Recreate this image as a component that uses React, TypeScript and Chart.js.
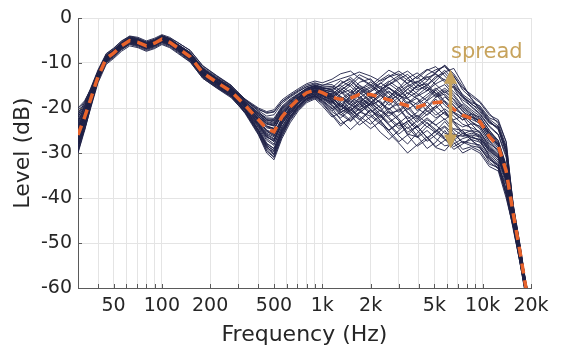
import React, { useEffect, useRef } from "react";
import { Chart, registerables } from "chart.js";

Chart.register(...registerables);

// ---------- data ----------
const FREQ = [30, 33, 36, 40, 45, 50, 56, 63, 71, 80, 90, 100, 112, 125, 150, 180, 220, 270, 330, 400, 450, 500, 560, 630, 710, 800, 900, 1000, 1150, 1300, 1500, 1700, 2000, 2300, 2600, 3000, 3400, 3900, 4500, 5100, 5800, 6600, 7500, 8500, 9600, 11000, 12500, 14000, 15500, 17000, 18500, 20000];

const MEAN = [-26, -22, -18, -13, -9, -7.8, -6.2, -5, -5.4, -6.2, -5.6, -4.7, -5.4, -6.6, -8.6, -12.2, -14.3, -16.3, -19.4, -22.6, -24.6, -25.3, -22, -19.8, -18, -16.6, -16, -16.6, -17.6, -18.1, -17.8, -17, -17, -17.6, -18.2, -18.9, -19.5, -19.8, -19.1, -18.8, -18.6, -20.3, -21.6, -22.3, -23, -26.4, -28.5, -34, -43.5, -51.5, -59.5, -65];

const C01 = [-22, -19.5, -16.5, -12.2, -8.6, -7.4, -5.8, -4.7, -5.0, -5.9, -5.3, -4.4, -5.0, -6.2, -8.0, -11.5, -13.6, -15.6, -18.2, -20.4, -21.0, -20.8, -18.6, -17.4, -16.2, -15.3, -14.6, -15.0, -14.2, -13.5, -12.8, -12.0, -12.9, -14.0, -13.1, -12.4, -13.8, -14.5, -12.6, -11.5, -10.8, -13.0, -15.6, -17.0, -18.5, -21.2, -23.5, -28.5, -41.5, -50, -58.5, -64];
const C02 = [-29.5, -24.5, -19.5, -13.8, -9.6, -8.3, -6.7, -5.5, -5.9, -6.7, -6.1, -5.2, -5.9, -7.1, -9.2, -12.9, -15.1, -17.1, -20.8, -25.6, -29.4, -30.8, -26.1, -22.6, -20.1, -18.4, -17.6, -18.8, -21.3, -23.5, -22.4, -20.9, -21.8, -23.6, -24.9, -23.2, -25.8, -26.4, -24.1, -25.5, -27.0, -28.6, -27.4, -27.9, -28.2, -31.0, -33.5, -39, -46, -53.5, -61, -66];
const C03 = [-25.0, -21.2, -17.6, -12.8, -9.1, -7.9, -6.3, -5.2, -5.5, -6.4, -5.7, -4.8, -5.6, -6.8, -8.8, -12.4, -14.5, -16.6, -19.9, -23.8, -26.5, -27.2, -23.0, -20.5, -18.4, -16.9, -16.3, -17.3, -19.0, -16.8, -15.9, -17.8, -19.6, -18.1, -16.4, -18.0, -21.2, -22.5, -19.8, -17.6, -16.9, -18.8, -20.5, -23.1, -24.6, -27.9, -29.4, -35, -44, -52, -59.8, -65];
const C04 = [-23.5, -20.4, -17.0, -12.6, -8.8, -7.6, -6.0, -4.9, -5.3, -6.0, -5.4, -4.5, -5.2, -6.4, -8.3, -11.9, -14.0, -16.0, -19.0, -21.5, -23.2, -23.6, -20.8, -19.0, -17.5, -16.2, -15.4, -15.8, -16.5, -17.9, -20.4, -19.1, -16.3, -15.2, -16.8, -19.5, -17.2, -15.1, -14.6, -16.9, -19.4, -21.0, -22.7, -21.3, -22.0, -24.9, -27.6, -33, -43, -51, -59.2, -65];
const C05 = [-28.0, -23.4, -18.6, -13.4, -9.3, -8.0, -6.4, -5.1, -5.6, -6.5, -5.8, -4.9, -5.5, -6.7, -8.9, -12.5, -14.8, -16.9, -20.3, -24.4, -27.8, -29.0, -24.6, -21.4, -19.0, -17.5, -16.9, -17.9, -18.8, -20.2, -21.5, -20.0, -18.4, -19.9, -22.1, -24.0, -23.1, -21.6, -23.4, -25.2, -24.0, -25.9, -26.3, -26.0, -26.4, -29.8, -31.6, -36, -45, -52.5, -60.2, -66];
const C06 = [-21.0, -19.0, -16.2, -12.1, -8.5, -7.3, -5.8, -4.6, -5.0, -5.8, -5.2, -4.3, -4.9, -6.0, -7.8, -11.4, -13.5, -15.5, -18.6, -21.0, -22.2, -22.3, -19.6, -18.0, -16.8, -15.6, -15.0, -15.5, -15.8, -15.0, -16.6, -14.3, -13.5, -15.8, -14.9, -13.6, -12.5, -14.8, -16.2, -14.0, -12.0, -11.2, -14.6, -18.0, -19.8, -22.5, -24.0, -29, -42, -50.5, -58.8, -64];
const C07 = [-30.0, -25.0, -19.8, -13.9, -9.7, -8.4, -6.8, -5.6, -6.0, -6.8, -6.2, -5.3, -6.0, -7.2, -9.3, -13.0, -15.2, -17.3, -21.2, -26.0, -30.0, -31.5, -26.8, -23.3, -20.6, -18.8, -18.0, -19.5, -22.0, -21.0, -19.8, -22.4, -24.6, -23.0, -20.8, -22.8, -26.0, -28.5, -27.0, -25.0, -26.8, -29.2, -28.0, -26.5, -27.0, -30.8, -33.0, -39.5, -46.5, -54, -61.5, -66];
const C08 = [-24.2, -21.0, -17.4, -12.7, -9.0, -7.8, -6.1, -5.0, -5.3, -6.2, -5.5, -4.6, -5.3, -6.5, -8.5, -12.1, -14.2, -16.2, -19.3, -22.3, -24.0, -24.5, -21.5, -19.5, -17.8, -16.5, -16.0, -16.2, -17.0, -18.6, -16.9, -15.4, -16.8, -19.0, -20.4, -18.2, -16.6, -17.9, -20.8, -19.6, -17.5, -19.4, -21.8, -22.5, -23.4, -26.8, -28.0, -33.5, -43.5, -51.5, -59.5, -65];
const C09 = [-26.8, -22.6, -18.3, -13.2, -9.2, -7.9, -6.3, -5.1, -5.5, -6.3, -5.7, -4.8, -5.5, -6.7, -8.7, -12.3, -14.4, -16.5, -19.8, -23.6, -26.2, -27.5, -23.6, -20.9, -18.8, -17.2, -16.5, -17.0, -18.4, -19.8, -18.0, -16.2, -18.5, -20.8, -18.6, -17.0, -19.4, -22.0, -20.2, -18.0, -20.6, -23.0, -24.2, -23.5, -24.0, -27.4, -29.8, -35.2, -44.5, -52.2, -60, -65];
const C10 = [-20.5, -18.6, -15.9, -11.9, -8.4, -7.2, -5.6, -4.5, -4.9, -5.7, -5.1, -4.2, -4.8, -5.9, -7.8, -11.2, -13.4, -15.4, -18.4, -20.6, -21.8, -21.5, -19.0, -17.6, -16.4, -15.2, -14.8, -15.4, -16.0, -14.8, -13.2, -14.9, -16.4, -14.6, -13.0, -11.8, -13.2, -15.6, -14.0, -12.2, -10.5, -12.8, -16.0, -17.8, -20.5, -23.2, -24.5, -29.5, -42.5, -50.8, -59, -64.5];
const C11 = [-27.5, -23.0, -18.5, -13.3, -9.4, -8.1, -6.5, -5.3, -5.6, -6.5, -5.9, -5.0, -5.6, -6.8, -9.0, -12.6, -14.7, -16.8, -20.0, -24.9, -28.6, -30.2, -25.4, -22.0, -19.6, -18.0, -17.4, -18.2, -20.0, -22.6, -24.8, -23.0, -20.5, -21.8, -23.8, -26.2, -28.0, -25.6, -23.2, -24.8, -26.5, -24.6, -25.0, -27.2, -28.5, -32.0, -33.5, -39, -47, -54, -61, -66];
const C12 = [-25.5, -21.6, -17.8, -12.9, -8.9, -7.7, -6.1, -4.9, -5.3, -6.1, -5.5, -4.6, -5.3, -6.5, -8.4, -12.0, -14.1, -16.1, -19.1, -22.0, -23.5, -23.8, -21.0, -19.2, -17.6, -16.3, -15.6, -16.0, -17.2, -16.0, -14.6, -16.5, -18.8, -17.0, -15.6, -16.8, -18.9, -17.2, -15.4, -16.6, -18.8, -20.6, -19.2, -20.8, -22.4, -25.6, -28.2, -33.8, -43.2, -51.2, -59.3, -65];
const C13 = [-29.0, -24.0, -19.2, -13.6, -9.5, -8.2, -6.6, -5.4, -5.8, -6.6, -6.0, -5.1, -5.8, -7.0, -9.1, -12.8, -15.0, -17.0, -20.6, -25.2, -28.8, -29.8, -25.6, -22.2, -19.8, -18.1, -17.3, -18.0, -19.4, -21.0, -19.6, -18.4, -20.2, -22.8, -25.0, -27.5, -26.0, -24.0, -26.6, -28.8, -29.5, -27.2, -25.6, -27.0, -29.0, -31.5, -32.8, -38.5, -45.5, -53, -60.5, -66];
const C14 = [-22.5, -20.0, -16.8, -12.4, -8.7, -7.5, -5.9, -4.8, -5.2, -6.0, -5.3, -4.4, -5.1, -6.3, -8.2, -11.7, -13.8, -15.8, -18.8, -21.6, -22.8, -22.9, -20.2, -18.6, -17.2, -15.9, -15.2, -15.7, -15.5, -13.9, -15.2, -17.0, -15.5, -13.8, -12.6, -14.4, -16.8, -15.0, -13.2, -12.5, -14.2, -16.5, -18.2, -19.6, -21.2, -24.0, -25.8, -30.5, -42.8, -51, -59, -64.5];
const C15 = [-26.2, -22.3, -18.1, -13.0, -9.1, -7.9, -6.2, -5.0, -5.4, -6.3, -5.6, -4.7, -5.4, -6.6, -8.6, -12.2, -14.3, -16.4, -19.6, -23.2, -25.6, -26.4, -22.8, -20.4, -18.4, -17.0, -16.3, -17.2, -18.6, -17.5, -19.2, -20.6, -18.8, -17.0, -18.7, -21.0, -19.0, -17.8, -19.6, -21.6, -20.2, -21.8, -23.6, -24.4, -25.2, -28.6, -30.4, -35.6, -44.8, -52.4, -60, -65.5];
const C16 = [-23.0, -20.2, -17.2, -12.5, -8.8, -7.6, -6.0, -4.8, -5.2, -6.1, -5.4, -4.5, -5.2, -6.4, -8.4, -11.9, -14.1, -16.0, -19.2, -22.6, -24.4, -24.8, -21.6, -19.6, -17.9, -16.6, -16.1, -16.8, -17.8, -19.6, -21.2, -19.4, -17.6, -16.2, -17.9, -16.4, -15.0, -16.8, -18.4, -17.0, -15.6, -17.4, -19.9, -21.4, -23.2, -26.0, -28.6, -34, -43.5, -51.5, -59.5, -65];
const C17 = [-28.5, -23.8, -18.9, -13.5, -9.3, -8.1, -6.5, -5.2, -5.7, -6.5, -5.9, -5.0, -5.7, -6.9, -8.9, -12.6, -14.7, -16.7, -20.4, -24.8, -28.0, -29.0, -24.8, -21.8, -19.4, -17.8, -17.2, -18.4, -20.6, -19.2, -21.6, -23.8, -22.0, -20.4, -22.4, -24.6, -22.8, -24.9, -27.4, -26.0, -24.2, -26.8, -29.2, -28.6, -29.5, -32.5, -33.2, -37, -46, -53.5, -61, -66];
const C18 = [-24.8, -21.4, -17.7, -12.8, -9.0, -7.7, -6.2, -4.9, -5.4, -6.2, -5.6, -4.6, -5.3, -6.6, -8.5, -12.1, -14.2, -16.3, -19.4, -22.8, -24.9, -25.6, -22.2, -19.9, -18.1, -16.7, -16.0, -16.4, -16.8, -15.6, -17.4, -16.0, -14.2, -15.8, -17.6, -15.9, -14.4, -13.0, -15.2, -17.4, -16.0, -18.2, -20.8, -22.0, -22.8, -25.8, -28.0, -33.6, -43.4, -51.4, -59.4, -65];
const C19 = [-27.0, -22.9, -18.4, -13.2, -9.2, -7.9, -6.4, -5.1, -5.5, -6.4, -5.7, -4.8, -5.5, -6.7, -8.7, -12.3, -14.5, -16.5, -19.7, -23.4, -25.8, -26.8, -23.2, -20.6, -18.6, -17.1, -16.4, -16.9, -17.4, -18.9, -20.6, -18.6, -17.2, -18.8, -20.2, -19.0, -20.8, -23.2, -21.4, -19.6, -21.4, -22.6, -21.8, -23.6, -25.6, -28.8, -30.6, -35.8, -45, -52.6, -60.2, -65.5];
const C20 = [-21.5, -19.3, -16.4, -12.2, -8.6, -7.4, -5.8, -4.6, -5.0, -5.9, -5.2, -4.3, -5.0, -6.1, -8.0, -11.5, -13.7, -15.7, -18.7, -21.2, -22.4, -22.6, -19.8, -18.2, -16.9, -15.6, -15.0, -15.3, -15.2, -16.8, -15.0, -13.2, -14.8, -16.4, -14.8, -13.2, -14.6, -16.0, -15.0, -13.4, -11.6, -13.8, -17.2, -19.2, -20.2, -23.0, -24.8, -30, -42.2, -50.6, -58.8, -64.5];
const C21 = [-25.8, -22.0, -18.0, -13.0, -9.1, -7.8, -6.2, -5.0, -5.4, -6.2, -5.6, -4.7, -5.4, -6.6, -8.6, -12.2, -14.3, -16.3, -19.5, -23.0, -25.2, -26.0, -22.6, -20.1, -18.2, -16.8, -16.2, -16.8, -17.9, -19.2, -17.6, -18.8, -21.0, -19.4, -17.6, -19.8, -22.4, -21.0, -18.6, -20.8, -22.6, -20.9, -22.0, -24.8, -26.8, -29.2, -31.0, -35.5, -44.6, -52.2, -60, -65.5];
const C22 = [-29.8, -24.6, -19.6, -13.8, -9.6, -8.3, -6.7, -5.5, -5.9, -6.7, -6.1, -5.2, -5.9, -7.1, -9.2, -12.8, -15.0, -17.1, -20.9, -25.8, -29.6, -31.0, -26.4, -22.8, -20.3, -18.5, -17.8, -19.0, -21.6, -24.0, -22.0, -20.2, -22.8, -25.4, -27.0, -25.0, -23.4, -26.2, -29.0, -27.6, -25.0, -27.6, -30.0, -29.0, -30.0, -33.0, -34.0, -40, -46.5, -54, -61.5, -66];
const C23 = [-23.8, -20.7, -17.3, -12.6, -8.9, -7.6, -6.1, -4.9, -5.2, -6.1, -5.4, -4.5, -5.2, -6.4, -8.3, -11.9, -14.0, -16.1, -19.0, -21.8, -23.4, -23.9, -21.0, -19.2, -17.6, -16.3, -15.6, -16.2, -16.2, -17.4, -18.8, -16.6, -15.2, -17.0, -19.4, -17.6, -15.8, -17.4, -16.2, -14.6, -13.6, -15.6, -18.8, -20.4, -21.8, -25.0, -27.2, -33, -43, -51, -59.2, -65];
const C24 = [-27.8, -23.2, -18.7, -13.3, -9.3, -8.0, -6.4, -5.2, -5.6, -6.4, -5.8, -4.9, -5.6, -6.8, -8.8, -12.4, -14.6, -16.6, -20.2, -24.2, -27.2, -28.3, -24.2, -21.2, -19.0, -17.4, -16.8, -17.6, -19.2, -21.4, -23.0, -21.2, -19.0, -20.6, -21.8, -20.2, -22.6, -24.4, -22.6, -23.8, -25.6, -26.4, -24.8, -25.2, -26.0, -29.4, -31.2, -36, -45.2, -52.8, -60.5, -66];
const C25 = [-22.0, -19.8, -16.7, -12.3, -8.7, -7.5, -5.9, -4.7, -5.1, -6.0, -5.3, -4.4, -5.1, -6.2, -8.1, -11.6, -13.8, -15.8, -18.9, -21.9, -23.6, -24.0, -21.2, -19.4, -17.7, -16.2, -15.5, -15.9, -16.4, -14.5, -13.6, -15.6, -17.8, -16.2, -14.2, -12.8, -11.8, -13.5, -11.6, -10.8, -12.9, -15.0, -17.5, -18.8, -19.5, -22.2, -23.0, -27.5, -41.8, -50.2, -58.6, -64];
const C26 = [-26.5, -22.4, -18.2, -13.1, -9.2, -7.9, -6.3, -5.1, -5.5, -6.3, -5.7, -4.8, -5.5, -6.7, -8.7, -12.3, -14.4, -16.4, -19.7, -23.5, -26.0, -27.0, -23.4, -20.8, -18.7, -17.2, -16.6, -17.4, -18.2, -20.4, -19.0, -17.2, -19.6, -21.8, -20.0, -22.4, -24.6, -22.8, -20.6, -22.2, -21.0, -23.4, -25.8, -25.0, -25.4, -28.2, -30.2, -35.4, -44.6, -52.4, -60, -65.5];
const C27 = [-24.0, -20.8, -17.4, -12.7, -8.9, -7.7, -6.0, -4.9, -5.3, -6.1, -5.5, -4.6, -5.2, -6.4, -8.4, -12.0, -14.1, -16.2, -19.2, -22.4, -24.2, -24.6, -21.6, -19.6, -17.8, -16.4, -15.8, -16.5, -17.6, -16.2, -18.0, -19.8, -18.0, -16.6, -15.4, -17.2, -18.0, -19.2, -17.6, -15.8, -14.8, -17.0, -19.6, -21.2, -22.6, -25.4, -27.8, -33.2, -43.2, -51.2, -59.3, -65];
const C28 = [-28.8, -23.9, -19.0, -13.5, -9.4, -8.1, -6.5, -5.3, -5.7, -6.6, -5.9, -5.0, -5.7, -6.9, -9.0, -12.7, -14.8, -16.9, -20.5, -25.0, -28.4, -29.4, -25.0, -21.9, -19.5, -17.9, -17.3, -18.6, -20.8, -22.2, -20.4, -21.8, -23.6, -21.6, -23.6, -25.8, -24.2, -26.6, -25.0, -26.8, -28.4, -28.0, -26.8, -26.2, -27.4, -30.2, -32.0, -36.8, -45.8, -53.2, -60.8, -66];
const C29 = [-25.2, -21.8, -17.9, -12.9, -9.0, -7.8, -6.2, -5.0, -5.4, -6.2, -5.6, -4.7, -5.4, -6.6, -8.6, -12.1, -14.3, -16.3, -19.4, -22.9, -25.0, -25.8, -22.4, -20.0, -18.1, -16.7, -16.1, -16.6, -17.2, -18.2, -16.4, -17.6, -19.2, -18.4, -21.2, -20.6, -18.6, -20.0, -21.6, -20.0, -18.4, -20.2, -21.4, -22.0, -23.6, -26.6, -29.0, -34.4, -43.8, -51.8, -59.6, -65];
const C30 = [-20.0, -18.4, -15.8, -11.8, -8.4, -7.2, -5.6, -4.5, -4.8, -5.7, -5.0, -4.1, -4.8, -5.8, -7.7, -11.2, -13.3, -15.3, -18.2, -20.2, -21.2, -20.9, -18.6, -17.2, -16.0, -14.9, -14.4, -14.9, -14.8, -16.2, -14.4, -12.6, -13.8, -15.4, -14.0, -15.6, -13.4, -12.2, -13.8, -12.0, -10.5, -12.4, -15.2, -17.4, -18.8, -21.6, -22.6, -27.5, -41.5, -50, -58.4, -64];
const C31 = [-21.5, -18.8, -15.6, -11.5, -7.9, -6.7, -5.1, -4.0, -4.3, -5.1, -4.5, -3.7, -4.3, -5.4, -7.2, -10.7, -12.9, -15.0, -18.0, -20.8, -22.6, -23.2, -20.4, -18.6, -17.0, -15.8, -15.2, -16.0, -17.0, -15.4, -14.0, -15.8, -17.4, -16.0, -14.6, -16.2, -17.8, -16.4, -14.8, -13.0, -12.2, -14.6, -17.0, -18.4, -20.0, -22.8, -24.6, -29.8, -42.4, -50.6, -58.8, -64.5];
const C32 = [-28.2, -24.8, -20.0, -14.4, -10.3, -9.0, -7.4, -6.2, -6.6, -7.4, -6.8, -5.9, -6.6, -7.8, -9.8, -13.4, -15.5, -17.5, -21.0, -25.4, -29.0, -30.4, -25.8, -22.4, -19.9, -18.2, -17.5, -18.4, -20.2, -18.8, -21.0, -22.6, -20.4, -22.8, -25.0, -23.4, -21.8, -24.0, -26.6, -25.2, -23.0, -25.4, -27.8, -27.0, -27.6, -30.6, -32.4, -38, -46.2, -53.6, -61, -66];
const C33 = [-24.6, -20.8, -17.0, -12.3, -8.5, -7.3, -5.7, -4.5, -4.9, -5.7, -5.0, -4.0, -4.5, -5.4, -7.2, -10.6, -12.8, -14.9, -18.4, -21.4, -23.0, -23.4, -20.6, -18.8, -17.3, -16.0, -15.4, -16.2, -18.4, -20.6, -18.2, -16.0, -14.8, -16.6, -18.4, -17.0, -15.2, -14.0, -15.8, -17.6, -16.4, -18.0, -20.2, -21.8, -22.8, -25.4, -27.2, -32.6, -43, -51, -59.2, -65];
const C34 = [-27.2, -23.6, -19.4, -14.0, -10.0, -8.8, -7.1, -5.9, -6.4, -7.2, -6.6, -5.7, -6.4, -7.6, -9.7, -13.4, -15.6, -17.7, -21.0, -25.0, -28.2, -29.6, -25.2, -22.0, -19.6, -17.9, -17.2, -17.8, -18.6, -20.8, -22.8, -21.0, -19.2, -21.4, -23.2, -21.6, -20.0, -22.2, -24.2, -22.6, -20.8, -23.0, -25.4, -26.6, -27.0, -29.6, -31.0, -36.4, -45.4, -53, -60.6, -66];
const C35 = [-26.0, -21.5, -17.2, -12.4, -8.4, -7.2, -5.6, -4.4, -4.8, -5.6, -5.0, -4.1, -4.9, -6.0, -8.0, -11.6, -13.7, -15.8, -19.2, -22.2, -24.0, -24.6, -21.4, -19.4, -17.6, -16.2, -15.7, -16.4, -17.4, -19.8, -17.2, -15.0, -17.6, -20.0, -17.6, -15.4, -17.8, -20.6, -18.2, -16.0, -18.6, -21.2, -22.6, -22.0, -23.0, -26.2, -28.4, -33.8, -43.6, -51.6, -59.5, -65];
const C36 = [-23.2, -19.6, -16.0, -11.8, -8.0, -6.8, -5.2, -4.1, -4.5, -5.3, -4.7, -3.9, -4.6, -5.8, -7.6, -11.0, -13.1, -15.1, -18.0, -20.0, -20.8, -20.4, -18.2, -16.9, -15.7, -14.6, -14.0, -14.4, -13.6, -12.4, -11.8, -13.4, -15.0, -13.2, -11.6, -12.8, -14.6, -13.0, -11.4, -12.4, -13.8, -15.4, -17.8, -19.0, -20.8, -23.4, -24.2, -29, -42, -50.4, -58.6, -64];
const C37 = [-28.6, -23.2, -18.4, -13.1, -9.8, -8.5, -6.9, -5.7, -6.1, -6.9, -6.3, -5.4, -6.1, -7.3, -9.4, -13.1, -15.3, -17.3, -20.4, -24.0, -26.8, -28.0, -24.2, -21.4, -19.3, -17.7, -17.0, -17.6, -19.6, -21.6, -20.0, -18.0, -20.4, -22.2, -20.6, -22.8, -25.4, -24.0, -22.2, -23.8, -22.4, -24.8, -26.2, -25.6, -26.2, -29.0, -30.8, -36.2, -45, -52.8, -60.4, -65.5];
const C38 = [-22.8, -20.6, -17.6, -12.9, -8.3, -7.1, -5.5, -4.3, -4.7, -5.5, -4.9, -4.0, -4.7, -5.9, -7.9, -11.4, -13.5, -15.5, -18.6, -21.2, -22.6, -22.8, -20.0, -18.4, -17.0, -15.7, -15.1, -15.6, -16.0, -17.6, -19.4, -17.8, -16.0, -14.4, -15.6, -17.4, -15.8, -14.2, -13.0, -14.8, -16.6, -15.2, -17.4, -19.8, -21.4, -24.2, -26.0, -31, -42.6, -50.8, -59, -64.5];
const C39 = [-25.4, -22.2, -18.6, -13.6, -9.9, -8.6, -7.0, -5.8, -6.2, -7.0, -6.4, -5.5, -6.2, -7.4, -9.5, -13.2, -15.4, -17.4, -20.2, -23.8, -26.4, -27.4, -23.6, -21.0, -18.9, -17.4, -16.8, -17.2, -18.0, -19.4, -20.8, -19.0, -21.4, -23.2, -25.6, -27.8, -30.0, -28.2, -26.4, -28.6, -27.2, -25.8, -27.6, -28.4, -28.8, -31.2, -32.6, -38, -46.2, -53.6, -61, -66];
const C40 = [-24.4, -21.6, -18.0, -13.2, -8.2, -7.0, -5.4, -4.2, -4.6, -5.4, -4.8, -3.9, -4.6, -5.8, -7.8, -11.3, -13.4, -15.4, -19.0, -22.6, -25.2, -26.2, -22.8, -20.2, -18.3, -16.9, -16.4, -17.0, -17.6, -16.4, -18.6, -20.4, -19.0, -17.4, -16.2, -18.2, -20.4, -18.8, -17.0, -15.6, -17.2, -19.4, -21.4, -23.0, -24.2, -27.2, -29.4, -34.8, -44.2, -52, -59.8, -65];

const CURVES = [C01, C02, C03, C04, C05, C06, C07, C08, C09, C10, C11, C12, C13, C14, C15, C16, C17, C18, C19, C20, C21, C22, C23, C24, C25, C26, C27, C28, C29, C30, C31, C32, C33, C34, C35, C36, C37, C38, C39, C40];

const GRID_FREQS = [40, 50, 60, 70, 80, 90, 100, 200, 300, 400, 500, 600, 700, 800, 900, 1000, 2000, 3000, 4000, 5000, 6000, 7000, 8000, 9000, 10000, 20000];
const X_TICK_LABELS: Record<number, string> = { 50: "50", 100: "100", 200: "200", 500: "500", 1000: "1k", 2000: "2k", 5000: "5k", 10000: "10k", 20000: "20k" };
const X_MIN = 30;
const X_MAX = 20000;
const Y_MIN = -60;
const Y_MAX = 0;
const Y_STEP = 10;

const SPREAD_ARROW = { freq: 6300, top: -11.5, bottom: -29 };
const SPREAD_LABEL = { text: "spread", freq: 6350, level: -7.7 };

// ---------- styles ----------
const FONT = '"DejaVu Sans", Verdana, sans-serif';
const LINE_COLOR = "rgba(30,32,70,0.9)";
const MEAN_COLOR = "#E8632B";
const GOLD = "#C7A35C";
const GRID = "#e4e4e4";
const AXIS = "#5a5a5a";
const TEXT = "#262626";

const overlayPlugin = {
  id: "overlay",
  afterDatasetsDraw(chart: any) {
    const { ctx, chartArea, scales } = chart;
    const x = scales.x;
    const y = scales.y;
    ctx.save();
    ctx.strokeStyle = AXIS;
    ctx.lineWidth = 1;
    ctx.beginPath();
    for (const f of GRID_FREQS) {
      const px = Math.round(x.getPixelForValue(f)) + 0.5;
      ctx.moveTo(px, chartArea.bottom);
      ctx.lineTo(px, chartArea.bottom - 4);
    }
    for (let v = Y_MIN + Y_STEP; v <= Y_MAX; v += Y_STEP) {
      const py = Math.round(y.getPixelForValue(v)) + 0.5;
      ctx.moveTo(chartArea.left, py);
      ctx.lineTo(chartArea.left + 4, py);
    }
    ctx.stroke();

    const ax = x.getPixelForValue(SPREAD_ARROW.freq);
    const yt = y.getPixelForValue(SPREAD_ARROW.top);
    const yb = y.getPixelForValue(SPREAD_ARROW.bottom);
    const head = 14;
    const hw = 6.5;
    ctx.strokeStyle = GOLD;
    ctx.fillStyle = GOLD;
    ctx.lineWidth = 3.5;
    ctx.beginPath();
    ctx.moveTo(ax, yt + head - 2);
    ctx.lineTo(ax, yb - head + 2);
    ctx.stroke();
    ctx.beginPath();
    ctx.moveTo(ax, yt);
    ctx.lineTo(ax - hw, yt + head);
    ctx.lineTo(ax + hw, yt + head);
    ctx.closePath();
    ctx.fill();
    ctx.beginPath();
    ctx.moveTo(ax, yb);
    ctx.lineTo(ax - hw, yb - head);
    ctx.lineTo(ax + hw, yb - head);
    ctx.closePath();
    ctx.fill();

    ctx.font = `21px ${FONT}`;
    ctx.textAlign = "left";
    ctx.textBaseline = "middle";
    ctx.fillText(SPREAD_LABEL.text, x.getPixelForValue(SPREAD_LABEL.freq), y.getPixelForValue(SPREAD_LABEL.level));
    ctx.restore();
  },
};

export default function App() {
  const canvasRef = useRef<HTMLCanvasElement | null>(null);

  useEffect(() => {
    const canvas = canvasRef.current;
    if (!canvas) return;
    const toPoints = (arr: number[]) => arr.map((v, i) => ({ x: FREQ[i], y: v }));
    const datasets: any[] = [
      {
        label: "mean",
        data: toPoints(MEAN),
        borderColor: MEAN_COLOR,
        borderWidth: 3.5,
        borderDash: [10, 7],
        pointRadius: 0,
        tension: 0,
        order: 0,
      },
      ...CURVES.map((c, k) => ({
        label: `r${k + 1}`,
        data: toPoints(c),
        borderColor: LINE_COLOR,
        borderWidth: 1,
        pointRadius: 0,
        tension: 0,
        order: 1,
      })),
    ];

    const chart = new Chart(canvas, {
      type: "line",
      data: { datasets },
      plugins: [overlayPlugin],
      options: {
        animation: false,
        responsive: false,
        devicePixelRatio: 1,
        layout: { padding: { left: 0, right: 31, top: 18, bottom: 0 } },
        plugins: { legend: { display: false }, tooltip: { enabled: false } },
        scales: {
          x: {
            type: "logarithmic",
            min: X_MIN,
            max: X_MAX,
            afterBuildTicks: (s: any) => {
              s.ticks = GRID_FREQS.map((v) => ({ value: v }));
            },
            afterFit: (s: any) => {
              s.height = 61;
            },
            grid: { color: GRID, lineWidth: 1, drawTicks: false },
            border: { display: true, color: AXIS, width: 1 },
            ticks: {
              autoSkip: false,
              maxRotation: 0,
              minRotation: 0,
              padding: 7,
              color: TEXT,
              font: { family: FONT, size: 19 },
              callback: (v: any) => X_TICK_LABELS[Number(v)] ?? "",
            },
            title: {
              display: true,
              text: "Frequency (Hz)",
              color: TEXT,
              font: { family: FONT, size: 22 },
              padding: { top: 0, bottom: 1 },
            },
          },
          y: {
            min: Y_MIN,
            max: Y_MAX,
            afterFit: (s: any) => {
              s.width = 78;
            },
            grid: { color: GRID, lineWidth: 1, drawTicks: false },
            border: { display: true, color: AXIS, width: 1 },
            ticks: {
              stepSize: Y_STEP,
              padding: 6,
              color: TEXT,
              font: { family: FONT, size: 19 },
            },
            title: {
              display: true,
              text: "Level (dB)",
              color: TEXT,
              font: { family: FONT, size: 22 },
              padding: { top: 10, bottom: 0 },
            },
          },
        },
      } as any,
    });
    return () => chart.destroy();
  }, []);

  return (
    <div style={{ position: "absolute", left: 0, top: 0, width: 562, height: 349, background: "#fff" }}>
      <canvas ref={canvasRef} width={562} height={349} style={{ display: "block" }} />
    </div>
  );
}
